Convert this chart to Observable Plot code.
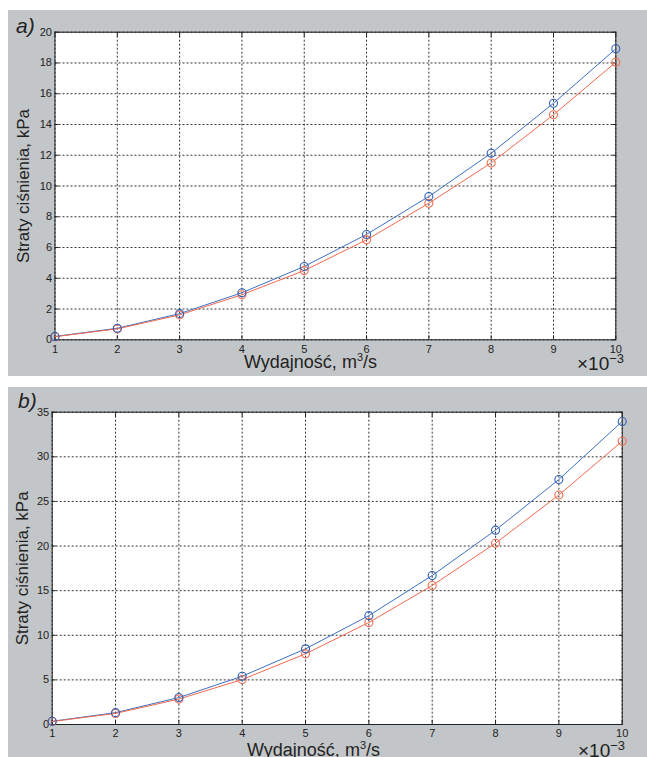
<!DOCTYPE html>
<html>
<head>
<meta charset="utf-8">
<script src="https://cdn.jsdelivr.net/npm/d3@7"></script>
<script src="https://cdn.jsdelivr.net/npm/@observablehq/plot@0.6"></script>
<style>
  html, body { margin: 0; padding: 0; background: #fff; }
  #wrap { position: relative; width: 647px; height: 757px; overflow: hidden; font-family: "Liberation Sans", Arial, sans-serif; }
  .panel { position: absolute; left: 8px; width: 639px; background: #c2c6c8; }
  .tag { position: absolute; font-style: italic; font-size: 21px; color: #222; line-height: 1; }
  .mult { position: absolute; font-size: 19px; color: #222; line-height: 1; }
  .mult sup { font-size: 13px; position: relative; top: -2px; vertical-align: top; }
  .xlab { position: absolute; font-size: 18px; color: #222; line-height: 1; white-space: nowrap; }
  .xlab sup { font-size: 11px; vertical-align: top; position: relative; top: -1px; }
</style>
</head>
<body>
<div id="wrap">
  <div class="panel" id="pa" style="top:10px;height:366px;"></div>
  <div class="panel" id="pb" style="top:387px;height:370px;"></div>
</div>
<script>
// Wydajność (m³/s)
const xValues = [0.001, 0.002, 0.003, 0.004, 0.005, 0.006, 0.007, 0.008, 0.009, 0.010];
// panel a) – straty ciśnienia, kPa
const aBlue = [0.22, 0.75, 1.70, 3.06, 4.77, 6.85, 9.32, 12.13, 15.38, 18.92];
const aRed  = [0.20, 0.71, 1.62, 2.93, 4.50, 6.50, 8.88, 11.50, 14.63, 18.05];
// panel b) – straty ciśnienia, kPa
const bBlue = [0.36, 1.33, 3.02, 5.41, 8.48, 12.20, 16.70, 21.78, 27.46, 33.96];
const bRed  = [0.33, 1.24, 2.85, 5.04, 7.92, 11.43, 15.58, 20.32, 25.72, 31.75];
const aYTicks = [0, 2, 4, 6, 8, 10, 12, 14, 16, 18, 20];
const bYTicks = [0, 5, 10, 15, 20, 25, 30, 35];
const yLabel = "Straty ciśnienia, kPa";
const xLabelText = "Wydajność, m";

const BLUE = "#3e6fc2";
const RED = "#f26a4e";
const GRID = "#333";

function makeChart(blue, red, yTicks, m, ylabDx) {
  const table = xValues.map((x, i) => ({x, blue: blue[i], red: red[i]}));
  const ymax = yTicks[yTicks.length - 1];
  return Plot.plot({
    width: 639,
    height: m.height,
    marginLeft: m.left,
    marginRight: m.right,
    marginTop: m.top,
    marginBottom: m.bottom,
    style: {background: "transparent", fontFamily: "'Liberation Sans', Arial, sans-serif", fontSize: "11px", color: "#222", overflow: "visible"},
    x: {domain: [0.001, 0.010], ticks: xValues},
    y: {domain: [0, ymax], ticks: yTicks},
    marks: [
      Plot.frame({fill: "white", stroke: null}),
      Plot.gridX(xValues, {stroke: GRID, strokeOpacity: 1, strokeDasharray: "2,2"}),
      Plot.gridY(yTicks, {stroke: GRID, strokeOpacity: 1, strokeDasharray: "2,2"}),
      Plot.axisX(xValues, {tickSize: 0, tickPadding: 5, tickFormat: d => String(Math.round(d * 1000)), label: null}),
      Plot.axisX(xValues, {tickSize: -4, text: null, label: null, stroke: "#222"}),
      Plot.axisX(xValues, {anchor: "top", tickSize: -4, text: null, label: null, stroke: "#222"}),
      Plot.axisY(yTicks, {tickSize: 0, tickPadding: 3, label: null}),
      Plot.axisY(yTicks, {tickSize: -4, text: null, label: null, stroke: "#222"}),
      Plot.axisY(yTicks, {anchor: "right", tickSize: -4, text: null, label: null, stroke: "#222"}),
      Plot.frame({stroke: "#222", strokeWidth: 1}),
      Plot.line(table, {x: "x", y: "blue", stroke: BLUE, strokeWidth: 1}),
      Plot.line(table, {x: "x", y: "red", stroke: RED, strokeWidth: 1}),
      Plot.dot(table, {x: "x", y: "red", r: 4, stroke: RED, strokeWidth: 1.1, fill: "none"}),
      Plot.dot(table, {x: "x", y: "blue", r: 4, stroke: "#2f5fb5", strokeWidth: 1.1, fill: "none"}),
      Plot.text([yLabel], {frameAnchor: "left", rotate: -90, dx: ylabDx, fontSize: 17, fill: "#222", textAnchor: "middle"})
    ]
  });
}

const pa = document.getElementById("pa");
const pb = document.getElementById("pb");
pa.append(makeChart(aBlue, aRed, aYTicks, {height: 366, left: 46.5, right: 31.7, top: 21.7, bottom: 36.7}, -31));
pb.append(makeChart(bBlue, bRed, bYTicks, {height: 370, left: 43.7, right: 25.3, top: 24.7, bottom: 33}, -30));

function addHTML(parent, cls, css, html) {
  const el = document.createElement("div");
  el.className = cls;
  el.style.cssText = css;
  el.innerHTML = html;
  parent.append(el);
}
addHTML(pa, "tag", "left:8px;top:5px;", "a)");
addHTML(pb, "tag", "left:10px;top:3px;", "b)");
addHTML(pa, "mult", "left:569px;top:344px;", "×10<sup>−3</sup>");
addHTML(pb, "mult", "left:570px;top:354px;", "×10<sup>−3</sup>");
addHTML(pa, "xlab", "left:236px;top:343px;", xLabelText + "<sup>3</sup>/s");
addHTML(pb, "xlab", "left:239px;top:354px;", xLabelText + "<sup>3</sup>/s");
</script>
</body>
</html>
